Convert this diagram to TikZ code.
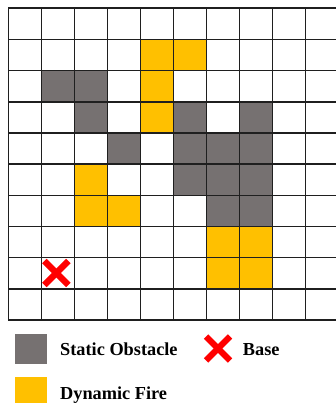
\documentclass[tikz,border=0pt]{standalone}
\usepackage{fontspec}
\setmainfont{Liberation Serif}
\definecolor{obst}{HTML}{767171}
\definecolor{fire}{HTML}{FFC000}
\definecolor{basered}{HTML}{FF0000}
\begin{document}
\begin{tikzpicture}[x=1pt,y=-1pt,
  gridline/.style={line width=1.6pt,color=black!88},
  redx/.style={line width=6.3pt,color=basered},
  legtext/.style={anchor=base west,inner sep=0pt,font=\bfseries\fontsize{18.3}{20}\selectfont}]
\useasboundingbox (0,0) rectangle (336,403);
\fill[white] (0,0) rectangle (336,403);
% obstacles
\foreach \c/\r in {1/2,2/2,2/3,3/4,5/3,7/3,5/4,6/4,7/4,5/5,6/5,7/5,6/6,7/6}
  \fill[obst] ({8.3+33*\c},{8.3+31.17*\r}) rectangle ++(33,31.17);
% fire
\foreach \c/\r in {4/1,5/1,4/2,4/3,2/5,2/6,3/6,6/7,7/7,6/8,7/8}
  \fill[fire] ({8.3+33*\c},{8.3+31.17*\r}) rectangle ++(33,31.17);
% grid
\foreach \c in {0,...,10}
  \draw[gridline] ({8.3+33*\c},8.3) -- ({8.3+33*\c},320);
\foreach \r in {0,...,10}
  \draw[gridline] (8.3,{8.3+31.17*\r}) -- (338.3,{8.3+31.17*\r});
% base
\coordinate (base) at (56.3,273);
\draw[redx] (base) ++(-12,-12) -- ++(24,24);
\draw[redx] (base) ++(12,-12) -- ++(-24,24);
% legend
\fill[obst] (15,334) rectangle (46.5,363.5);
\fill[fire] (15,377) rectangle (46.5,403);
\coordinate (legx) at (218,348.5);
\draw[redx] (legx) ++(-12,-12) -- ++(24,24);
\draw[redx] (legx) ++(12,-12) -- ++(-24,24);
\node[legtext] (lobst) at (60,355.7) {Static Obstacle};
\node[legtext] (lbase) at (242.7,355.7) {Base};
\node[legtext] (lfire) at (60,399) {Dynamic Fire};
\end{tikzpicture}
\end{document}
